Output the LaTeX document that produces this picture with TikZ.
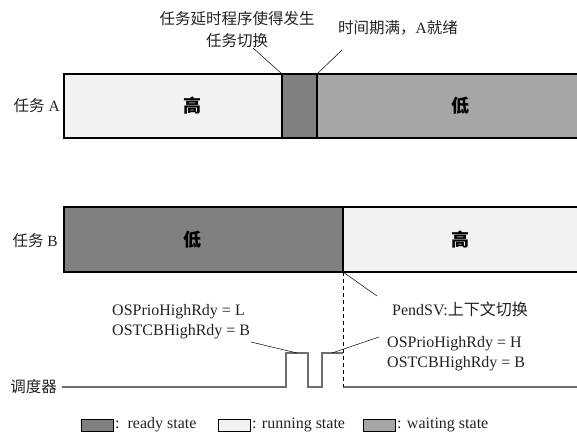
\documentclass[tikz,border=0pt]{standalone}
\usepackage{fontspec}
\setmainfont{Liberation Serif}
\newfontfamily\cjk{Noto Sans CJK SC}
\definecolor{readyc}{HTML}{808080}
\definecolor{runc}{HTML}{F2F2F2}
\definecolor{waitc}{HTML}{A6A6A6}
\definecolor{txtc}{HTML}{222222}
\definecolor{schc}{HTML}{6E6E6E}
\tikzset{
  bar/.style={draw=black, line width=1.3pt, anchor=north west, inner sep=0pt, outer sep=0pt},
  prio/.style={font=\fontsize{18}{20}\selectfont\cjk\bfseries, text=black, inner sep=0pt},
  lbl/.style={font=\fontsize{15.5}{22}\selectfont, text=txtc, inner sep=0pt},
  ostxt/.style={font=\fontsize{16}{20}\selectfont, text=txtc, inner sep=0pt, align=left, anchor=west},
  leader/.style={draw=black, line width=0.5pt},
  sched/.style={draw=schc, line width=1.3pt},
  legbox/.style={draw=black, line width=0.6pt, anchor=north west, inner sep=0pt, minimum width=32pt, minimum height=12pt},
  legtxt/.style={font=\fontsize{16}{18}\selectfont, text=txtc, inner sep=0pt, anchor=west}
}
\begin{document}
\begin{tikzpicture}[x=1pt,y=-1pt]
\useasboundingbox (0,0) rectangle (577,432);

% Task A
\node[bar, fill=runc,  minimum width=218pt, minimum height=64pt] (a1) at (64,74) {};
\node[bar, fill=readyc, minimum width=35pt, minimum height=64pt] (a2) at (282,74) {};
\node[bar, fill=waitc, minimum width=265pt, minimum height=64pt] (a3) at (317,74) {};
\node[lbl, anchor=east] (la) at (60,106) {{\cjk 任务} A};
\node[prio] (ah) at (192,106) {高};
\node[prio] (al) at (460,106) {低};

% top annotations
\node[lbl, align=center, font=\fontsize{15.5}{22}\selectfont\cjk] (t1) at (237,30) {任务延时程序使得发生\\任务切换};
\node[lbl, anchor=west] (t2) at (338,28) {{\cjk 时间期满，}A{\cjk 就绪}};
\coordinate (t1e) at (253,48);
\coordinate (t2e) at (342,50);
\draw[leader] (t1e) -- (a2.north west);
\draw[leader] (t2e) -- (a3.north west);

% Task B
\node[bar, fill=readyc, minimum width=279pt, minimum height=65pt] (b1) at (64,207) {};
\node[bar, fill=runc, minimum width=239pt, minimum height=65pt] (b2) at (343,207) {};
\node[lbl, anchor=east] (lb) at (58,241) {{\cjk 任务} B};
\node[prio] (bl) at (192,240) {低};
\node[prio] (bh) at (460,240) {高};

% PendSV
\coordinate (pe) at (377,296);
\draw[leader] (b1.south east) -- (pe);
\node[lbl, anchor=west, font=\fontsize{16}{18}\selectfont] (pendsv) at (392,309) {PendSV:{\cjk 上下文切换}};

% scheduler
\node[lbl, anchor=east] (sch) at (57,387) {\cjk 调度器};
\coordinate (s0) at (62,387);
\coordinate (p1a) at (286,387);
\coordinate (p1b) at (286,353);
\coordinate (p1c) at (308,353);
\coordinate (p1d) at (308,387);
\coordinate (p2a) at (322,387);
\coordinate (p2b) at (322,353);
\coordinate (p2c) at (343,353);
\coordinate (p2d) at (343,387);
\coordinate (s1) at (578,387);
\draw[sched] (s0) -- (p1a) -- (p1b) -- (p1c) -- (p1d) -- (p2a) -- (p2b) -- (p2c);
\draw[sched] (p2d) -- (s1);
\draw[draw=black, line width=0.6pt, dashed, dash pattern=on 4pt off 3pt] (b1.south east) -- (p2d);

% OS texts
\node[ostxt] (osl) at (112,322) {OSPrioHighRdy = L\\OSTCBHighRdy = B};
\node[ostxt] (osr) at (387,353.5) {OSPrioHighRdy = H\\OSTCBHighRdy = B};
\coordinate (l1s) at (251,342);
\coordinate (l1e) at (297,353);
\coordinate (l2s) at (332,353);
\coordinate (l2e) at (379,337);
\draw[leader] (l1s) -- (l1e);
\draw[leader] (l2s) -- (l2e);

% legend
\node[legbox, fill=readyc] (k1) at (81,419) {};
\node[legtxt] (k1t) at (115,425) {:\ \ ready state};
\node[legbox, fill=runc] (k2) at (218,419) {};
\node[legtxt] (k2t) at (252,425) {: running state};
\node[legbox, fill=waitc] (k3) at (363,419) {};
\node[legtxt] (k3t) at (397,425) {: waiting state};
\end{tikzpicture}
\end{document}
